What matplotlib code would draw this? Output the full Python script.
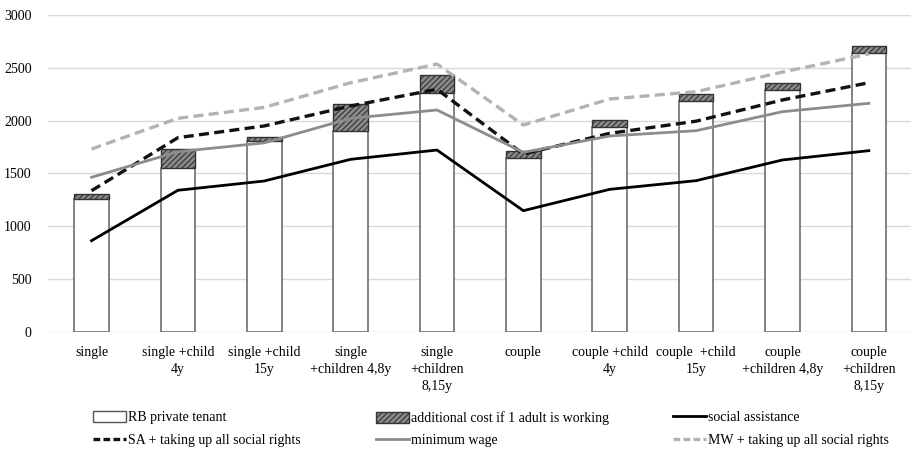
import matplotlib.pyplot as plt
import numpy as np
from matplotlib.patches import Patch
from matplotlib.lines import Line2D

plt.rcParams['font.family'] = ['Liberation Serif', 'DejaVu Serif']
plt.rcParams['font.size'] = 10
plt.rcParams['hatch.linewidth'] = 0.8

# household types
categories = ['single', 'single +child\n4y', 'single +child\n15y',
              'single\n+children 4,8y', 'single\n+children\n8,15y',
              'couple', 'couple +child\n4y', 'couple  +child\n15y',
              'couple\n+children 4,8y', 'couple\n+children\n8,15y']

# reference budget, private tenant
rb_private = [1260, 1555, 1807, 1905, 2259, 1647, 1943, 2189, 2290, 2637]
# extra cost when one adult works
extra_work = [45, 174, 35, 249, 170, 66, 63, 63, 66, 70]

social_assistance = [864, 1341, 1429, 1634, 1722, 1148, 1350, 1432, 1628, 1716]
sa_all_rights = [1337, 1839, 1950, 2139, 2297, 1684, 1880, 1995, 2196, 2359]
minimum_wage = [1464, 1706, 1790, 2022, 2101, 1700, 1855, 1905, 2085, 2164]
mw_all_rights = [1732, 2022, 2126, 2359, 2536, 1959, 2205, 2274, 2460, 2631]

yticks = [0, 500, 1000, 1500, 2000, 2500, 3000]

x = np.arange(len(categories))

fig = plt.figure(figsize=(9.12, 4.49), dpi=100)
ax = fig.add_axes([0.053, 0.2606, 0.947, 0.706])

ax.bar(x, rb_private, width=0.4, color='white', edgecolor='#6e6e6e',
       linewidth=1.2, zorder=2)
ax.bar(x, extra_work, width=0.4, bottom=rb_private, color='#8a8a8a',
       edgecolor='#333333', hatch='//////', linewidth=1.0, zorder=2)

ax.plot(x, social_assistance, color='black', lw=2.0, zorder=3)
ax.plot(x, sa_all_rights, color='#111111', lw=2.4, ls=(0, (3, 1.6)), zorder=3)
ax.plot(x, minimum_wage, color='#8c8c8c', lw=2.0, zorder=3)
ax.plot(x, mw_all_rights, color='#b3b3b3', lw=2.4, ls=(0, (3, 1.6)), zorder=3)

ax.set_xlim(-0.5, len(categories) - 0.5)
ax.set_ylim(0, 3000)
ax.set_yticks(yticks)
ax.set_xticks(x)
ax.set_xticklabels(categories, linespacing=1.4)
ax.grid(axis='y', color='#d9d9d9', lw=1.0, zorder=0)
ax.set_axisbelow(True)
for s in ax.spines.values():
    s.set_visible(False)
ax.tick_params(axis='both', length=0)
ax.tick_params(axis='y', pad=12)
ax.tick_params(axis='x', pad=10)

h_rb = Patch(facecolor='white', edgecolor='#555555', linewidth=1.0)
h_extra = Patch(facecolor='#8a8a8a', edgecolor='#333333', hatch='//////')
h_sa = Line2D([], [], color='black', lw=2.0)
h_sar = Line2D([], [], color='#111111', lw=2.4, ls=(0, (2, 1)))
h_mw = Line2D([], [], color='#8c8c8c', lw=2.0)
h_mwr = Line2D([], [], color='#b3b3b3', lw=2.4, ls=(0, (2, 1)))

cols = [([h_rb, h_sar], ['RB private tenant', 'SA + taking up all social rights'], 0.102),
        ([h_extra, h_mw], ['additional cost if 1 adult is working', 'minimum wage'], 0.412),
        ([h_sa, h_mwr], ['social assistance', 'MW + taking up all social rights'], 0.738)]
for hs, ls, x0 in cols:
    fig.legend(hs, ls, loc='upper left', bbox_to_anchor=(x0, 0.084),
               frameon=False, handlelength=2.4, handleheight=0.8,
               handletextpad=0.15, labelspacing=0.65, borderpad=0,
               borderaxespad=0)

fig.savefig('out.png', dpi=100)
